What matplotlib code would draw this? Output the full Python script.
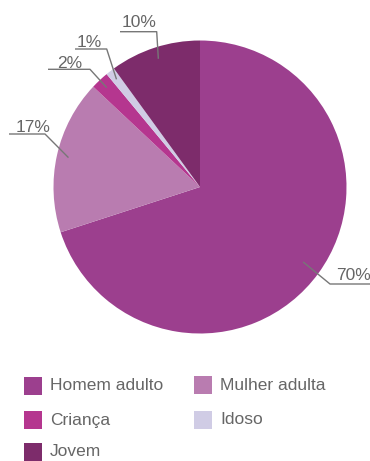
import matplotlib
matplotlib.use("Agg")
import matplotlib.pyplot as plt
import numpy as np

# Data
categories = ["Homem adulto", "Mulher adulta", "Criança", "Idoso", "Jovem"]
shares = [70, 17, 2, 1, 10]
value_labels = ["70%", "17%", "2%", "1%", "10%"]
colors = ["#9c3f8e", "#b97cb0", "#b5368f", "#d0cce5", "#7d2c6b"]

W, H = 370, 461
TEXT = "#666666"
LINE = "#777777"
FONT = ["Liberation Sans", "DejaVu Sans"]

fig = plt.figure(figsize=(W / 100, H / 100), dpi=100)
ax = fig.add_axes([0, 0, 1, 1])


def Y(y):
    # top-down pixel row -> axes y
    return H - y


cx, cy, R = 200, 187, 146.5
wedges, _ = ax.pie(shares, colors=colors, startangle=90, counterclock=False,
                   center=(cx, Y(cy)), radius=R,
                   wedgeprops=dict(linewidth=0))
ax.set_xlim(0, W)
ax.set_ylim(0, H)
ax.set_aspect("equal")
ax.axis("off")

# Leader lines: (start radius fraction, elbow x, elbow y, line end x, text x, text baseline y)
leaders = [
    (0.87, 330, 284, 372, 336.5, 280),
    (0.92, 45, 134, 9, 16, 131.5),
    (0.93, 90, 69.3, 48, 57, 67.5),
    (0.93, 106.7, 49, 75, 77, 46.5),
    (0.92, 156.7, 31.7, 120, 121.7, 27),
]
for w, lab, (rf, ex, ey, lx, tx, ty) in zip(wedges, value_labels, leaders):
    mid = np.deg2rad((w.theta1 + w.theta2) / 2)
    sx = cx + rf * R * np.cos(mid)
    sy = Y(cy) + rf * R * np.sin(mid)
    ax.plot([sx, ex, lx], [sy, Y(ey), Y(ey)], color=LINE, lw=1.0,
            solid_capstyle="butt", clip_on=False)
    ax.text(tx, Y(ty), lab, ha="left", va="baseline", fontsize=12.5,
            color=TEXT, family=FONT)

# Legend
legend_pos = [(24, 386), (194, 385), (24, 420), (194, 420), (24, 452)]
for (lx, ly), name, col in zip(legend_pos, categories, colors):
    ax.add_patch(plt.Rectangle((lx, Y(ly) - 9), 18, 18, facecolor=col,
                               edgecolor="none"))
    ax.text(lx + 26, Y(ly), name, ha="left", va="center", fontsize=12.5,
            color=TEXT, family=FONT)

fig.savefig("out.png", dpi=100)
